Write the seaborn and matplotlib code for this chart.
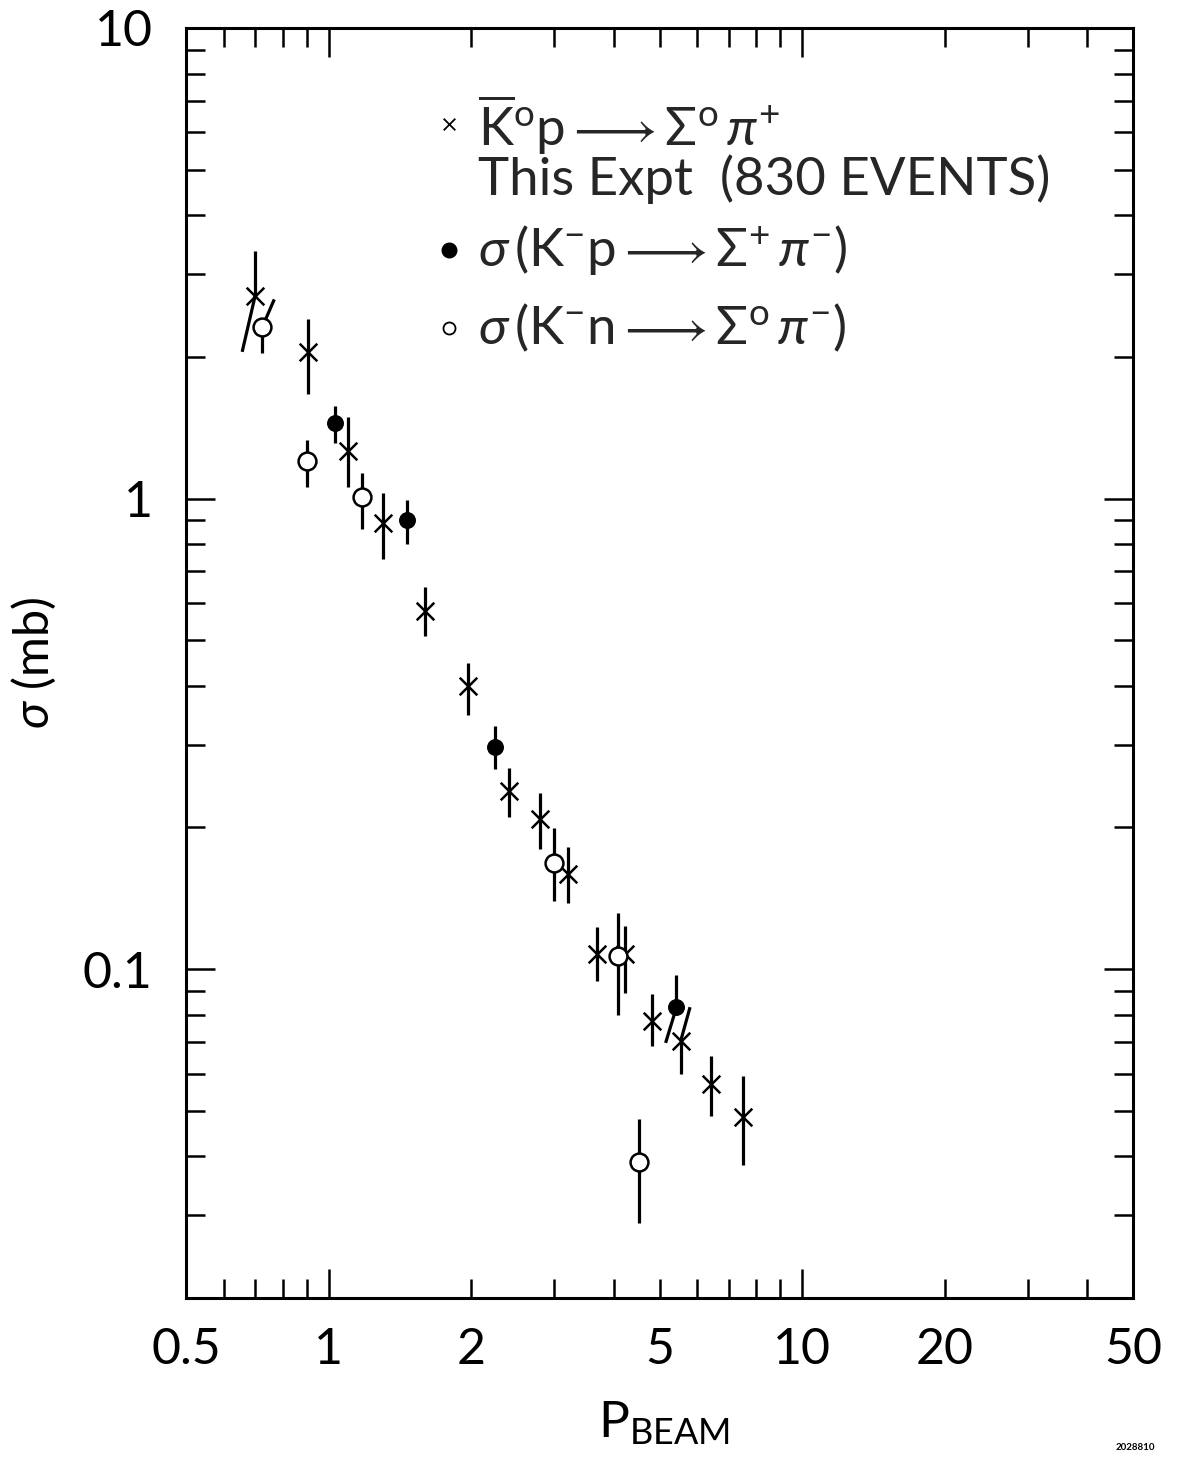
import numpy as np
import pandas as pd
import matplotlib
matplotlib.use("Agg")
import matplotlib.pyplot as plt
from matplotlib.ticker import FixedLocator, FixedFormatter, NullFormatter
import seaborn as sns

# K0bar p -> Sigma0 pi+ (this experiment): beam momentum, cross section, error bar ends
kbar_x = [0.70, 0.905, 1.10, 1.30, 1.60, 1.97, 2.40, 2.80, 3.20, 3.69, 4.22, 4.81, 5.54, 6.42, 7.51]
kbar_y = [2.70, 2.05, 1.265, 0.886, 0.578, 0.400, 0.239, 0.208, 0.159, 0.1075, 0.1075, 0.0775, 0.0703, 0.0570, 0.0484]
kbar_lo = [2.05, 1.67, 1.057, 0.744, 0.511, 0.347, 0.210, 0.180, 0.138, 0.0943, 0.0890, 0.0686, 0.0599, 0.0487, 0.0384]
kbar_hi = [3.36, 2.41, 1.494, 1.026, 0.648, 0.448, 0.267, 0.237, 0.182, 0.1229, 0.1237, 0.0886, 0.0830, 0.0653, 0.0592]
# bars bent aside where points crowd (nan = straight)
kbar_lo_tip = [0.657] + [np.nan] * 14
kbar_hi_tip = [np.nan] * 12 + [5.80, np.nan, np.nan]

# K- p -> Sigma+ pi-
kmp_x = [1.03, 1.466, 2.25, 5.43]
kmp_y = [1.446, 0.901, 0.296, 0.0830]
kmp_lo = [1.31, 0.801, 0.266, 0.0697]
kmp_hi = [1.57, 0.994, 0.328, 0.0971]
kmp_lo_tip = [np.nan, np.nan, np.nan, 5.15]
kmp_hi_tip = [np.nan] * 4

# K- n -> Sigma0 pi-
kmn_x = [0.724, 0.90, 1.175, 3.00, 4.08, 4.52]
kmn_y = [2.31, 1.20, 1.006, 0.168, 0.1066, 0.0389]
kmn_lo = [2.04, 1.057, 0.862, 0.1395, 0.0798, 0.0289]
kmn_hi = [2.65, 1.333, 1.132, 0.199, 0.1318, 0.0481]
kmn_lo_tip = [np.nan] * 6
kmn_hi_tip = [0.768] + [np.nan] * 5

x_major = [1, 10]
x_major_labels = ["1", "10"]
x_minor = [0.5, 0.6, 0.7, 0.8, 0.9, 2, 3, 4, 5, 6, 7, 8, 9, 20, 30, 40, 50]
x_minor_labels = ["0.5", "", "", "", "", "2", "", "", "5", "", "", "", "", "20", "", "", "50"]
y_major = [0.1, 1, 10]
y_major_labels = ["0.1", "1", "10"]
y_minor = [m * d for d in (0.01, 0.1, 1) for m in range(2, 10)]

sns.set_theme(style="ticks")
plt.rcParams["font.family"] = ["Lato", "DejaVu Sans"]
plt.rcParams["font.weight"] = "normal"
plt.rcParams["mathtext.fontset"] = "custom"
plt.rcParams["mathtext.rm"] = "Lato"
plt.rcParams["mathtext.it"] = "Lato:italic"
plt.rcParams["mathtext.sf"] = "Lato"

fig = plt.figure(figsize=(11.81, 14.57), dpi=100)
ax = fig.add_axes([0.1575, 0.1091, 0.8019, 0.8717])
ax.set_xscale("log")
ax.set_yscale("log")

BAR_LW = 2.3


def draw_bars(xs, ys, los, his, lo_tips, hi_tips):
    for xi, yi, lo, hi, lt, ht in zip(xs, ys, los, his, lo_tips, hi_tips):
        xl = xi if np.isnan(lt) else lt
        xh = xi if np.isnan(ht) else ht
        ax.plot([xi, xl], [yi, lo], color="black", lw=BAR_LW,
                solid_capstyle="butt", zorder=2)
        ax.plot([xi, xh], [yi, hi], color="black", lw=BAR_LW,
                solid_capstyle="butt", zorder=2)


draw_bars(kbar_x, kbar_y, kbar_lo, kbar_hi, kbar_lo_tip, kbar_hi_tip)
draw_bars(kmp_x, kmp_y, kmp_lo, kmp_hi, kmp_lo_tip, kmp_hi_tip)
draw_bars(kmn_x, kmn_y, kmn_lo, kmn_hi, kmn_lo_tip, kmn_hi_tip)

kbar_df = pd.DataFrame({"p": kbar_x, "sigma": kbar_y})
kmp_df = pd.DataFrame({"p": kmp_x, "sigma": kmp_y})
kmn_df = pd.DataFrame({"p": kmn_x, "sigma": kmn_y})

sns.scatterplot(data=kbar_df, x="p", y="sigma", ax=ax, marker="x",
                color="black", s=160, linewidth=1.8, zorder=3, legend=False)
sns.scatterplot(data=kmp_df, x="p", y="sigma", ax=ax, marker="o",
                color="black", edgecolor="black", s=125, linewidth=1.0,
                zorder=3, legend=False)
sns.scatterplot(data=kmn_df, x="p", y="sigma", ax=ax, marker="o",
                color="white", edgecolor="black", s=165, linewidth=1.8,
                zorder=3, legend=False)

ax.set_xlim(0.5, 50)
ax.set_ylim(0.02, 10)

# axes frame and ticks on all four sides, pointing inward
for sp in ax.spines.values():
    sp.set_linewidth(2.2)
    sp.set_color("black")

ax.xaxis.set_major_locator(FixedLocator(x_major))
ax.xaxis.set_major_formatter(FixedFormatter(x_major_labels))
ax.xaxis.set_minor_locator(FixedLocator(x_minor))
ax.xaxis.set_minor_formatter(FixedFormatter(x_minor_labels))
ax.yaxis.set_major_locator(FixedLocator(y_major))
ax.yaxis.set_major_formatter(FixedFormatter(y_major_labels))
ax.yaxis.set_minor_locator(FixedLocator(y_minor))
ax.yaxis.set_minor_formatter(NullFormatter())

ax.tick_params(which="both", direction="in", top=True, right=True,
               width=1.8, color="black", labelcolor="black", labelsize=36)
ax.tick_params(which="major", length=21)
ax.tick_params(which="minor", length=14)
ax.tick_params(axis="x", which="both", pad=21)
ax.tick_params(axis="y", which="both", pad=24)

ax.set_xlabel(r"P$_{\mathrm{BEAM}}$", fontsize=37, color="black",
              fontweight="normal")
ax.xaxis.set_label_coords(0.505, -0.080)
ax.set_ylabel(r"$\sigma$ (mb)", fontsize=35, color="black",
              fontweight="normal")
ax.yaxis.set_label_coords(-0.135, 0.5)

# key
key_fs = 38
mx, tx = 0.278, 0.308
ax.scatter([mx], [0.924], transform=ax.transAxes, marker="x", s=70,
           color="black", linewidths=1.3, zorder=4)
ax.text(tx, 0.924,
        r"$\overline{\mathrm{K}}^{\mathrm{o}}\mathrm{p}\longrightarrow\Sigma^{\mathrm{o}}\,\pi^{+}$",
        transform=ax.transAxes, fontsize=key_fs, va="center", ha="left")
ax.text(tx, 0.881, "This Expt  (830 EVENTS)", transform=ax.transAxes,
        fontsize=key_fs, va="center", ha="left")
ax.scatter([mx], [0.825], transform=ax.transAxes, marker="o", s=110,
           color="black", zorder=4)
ax.text(tx, 0.825,
        r"$\sigma\,(\mathrm{K}^{-}\mathrm{p}\longrightarrow\Sigma^{+}\,\pi^{-})$",
        transform=ax.transAxes, fontsize=key_fs, va="center", ha="left")
ax.scatter([mx], [0.764], transform=ax.transAxes, marker="o", s=75,
           facecolor="white", edgecolor="black", linewidths=1.3, zorder=4)
ax.text(tx, 0.764,
        r"$\sigma\,(\mathrm{K}^{-}\mathrm{n}\longrightarrow\Sigma^{\mathrm{o}}\,\pi^{-})$",
        transform=ax.transAxes, fontsize=key_fs, va="center", ha="left")

fig.text(1135 / 1181, 1 - 1447 / 1457, "2028810", fontsize=7,
         fontweight="bold", ha="center", va="center", color="black")

fig.savefig("out.png", dpi=100, facecolor="white")
